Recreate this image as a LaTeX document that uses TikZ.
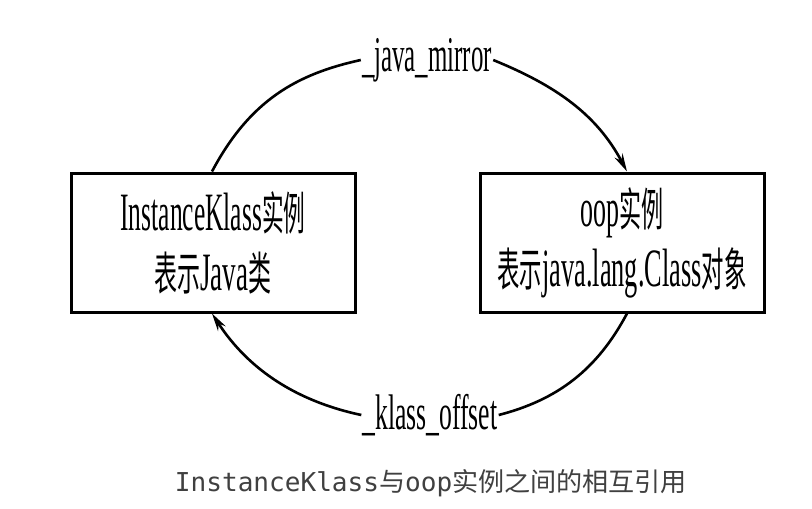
\documentclass[tikz,border=0pt]{standalone}
\usepackage{fontspec}
\usepackage{graphicx}
\setmainfont{Liberation Serif}
\newfontfamily\cjk[Scale=0.85]{Noto Sans CJK SC}
\newfontfamily\capcjk{Noto Sans CJK SC}
\newfontfamily\capmono{DejaVu Sans Mono}
\usetikzlibrary{arrows.meta}
\definecolor{captext}{HTML}{404040}
\begin{document}
\begin{tikzpicture}[x=1pt,y=-1pt,
  box/.style={draw,line width=3pt,minimum width=284pt,minimum height=139pt,inner sep=0pt,align=center,font=\fontsize{54}{60}\selectfont},
  lab/.style={inner sep=1pt,font=\fontsize{50}{50}\selectfont},
  conn/.style={line width=2.6pt},
  arr/.style={conn,-{Stealth[length=18pt,width=9pt]}}]
\useasboundingbox (0,0) rectangle (812,509);
\node[box] (L) at (213,242.5) {\resizebox{185pt}{\height}{InstanceKlass{\cjk 实例}}\\ \resizebox{117pt}{\height}{{\cjk 表示}Java{\cjk 类}}};
\node[box] (R) at (622,242.5) {\resizebox{83pt}{\height}{oop{\cjk 实例}}\\ \resizebox{249pt}{\height}{{\cjk 表示}java.lang.Class{\cjk 对象}}};
\node[lab] (jm) at (427,60) {\resizebox{130pt}{\height}{\_java\_mirror}};
\node[lab] (ko) at (430,415) {\resizebox{135pt}{\height}{\_klass\_offset}};
\node[font=\fontsize{26}{26}\selectfont] (cap) at (431,483) {\color{captext}\resizebox{512pt}{\height}{{\capmono InstanceKlass}{\capcjk 与}{\capmono oop}{\capcjk 实例之间的相互引用}}};
\draw[conn] ([xshift=-1pt]L.north) .. controls (250,100) and (297,74) .. (jm.west);
\draw[arr] (jm.east) .. controls (557,86) and (597,115) .. ([xshift=5pt]R.north);
\draw[conn] ([xshift=5pt]R.south) .. controls (597,370) and (557,400) .. (ko.east);
\draw[arr] (ko.west) .. controls (300,402) and (250,372) .. ([xshift=-1pt]L.south);
\end{tikzpicture}
\end{document}
